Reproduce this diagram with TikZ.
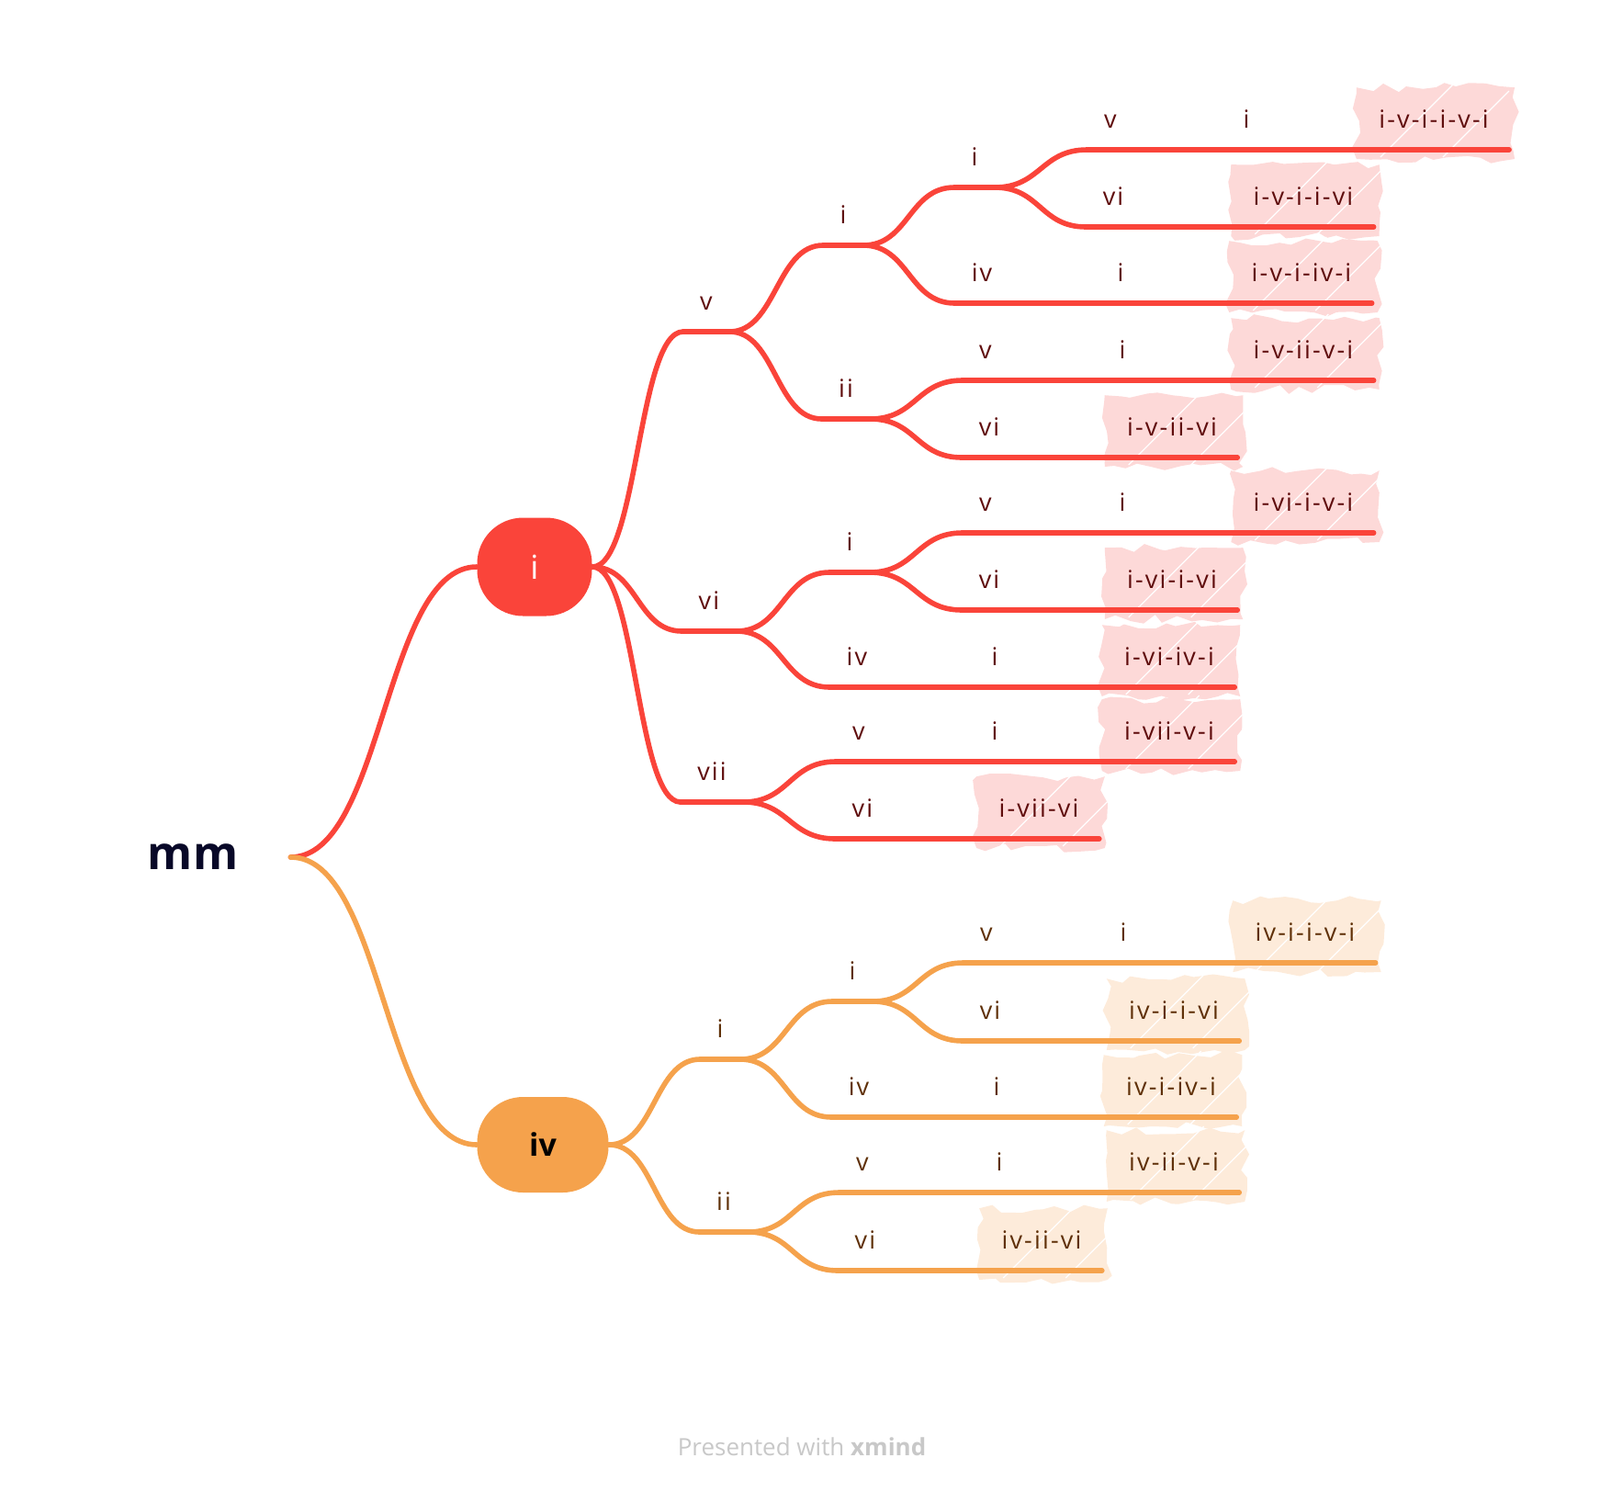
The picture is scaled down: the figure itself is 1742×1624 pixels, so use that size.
\documentclass[tikz,border=0pt]{standalone}
\usepackage{fontspec}
\setmainfont{Open Sans}
\newfontfamily\lblfont[LetterSpace=8]{Open Sans}
\usetikzlibrary{calc,backgrounds,decorations.pathmorphing}
\definecolor{rbranch}{RGB}{250,68,58}
\definecolor{obranch}{RGB}{245,162,76}
\definecolor{rtext}{RGB}{95,12,12}
\definecolor{otext}{RGB}{95,48,8}
\definecolor{rpatch}{RGB}{253,217,216}
\definecolor{opatch}{RGB}{253,235,218}
\definecolor{roottext}{RGB}{8,8,40}
\definecolor{footgray}{RGB}{200,200,200}
\begin{document}
\begin{tikzpicture}[x=0.5pt,y=-0.5pt,
  topic/.style={inner xsep=9pt,inner ysep=0pt,text height=10pt,text depth=11.5pt,anchor=south,
    font={\lblfont\fontsize{13.5pt}{16pt}\selectfont}},
  leaf/.style={topic,inner xsep=11pt},
  rtxt/.style={text=rtext},
  otxt/.style={text=otext},
  rline/.style={draw=rbranch,line width=2.8pt,line cap=round},
  oline/.style={draw=obranch,line width=2.8pt,line cap=round},
  link/.style={to path={let \p1=(\tikztostart),\p2=(\tikztotarget) in
    .. controls ({(\x1+\x2)/2},\y1) and ({(\x1+\x2)/2},\y2) .. (\tikztotarget)}},
  hatchfill/.style={fill=#1,decorate,decoration={random steps,segment length=7pt,amplitude=2.5pt}},
  streak/.style={draw=white,line width=0.6pt},
  blob/.style={fill=#1,rounded corners=25pt,inner sep=0pt}]
\useasboundingbox (0,0) rectangle (1742,1624);

\node[font=\bfseries\fontsize{25pt}{30pt}\selectfont,text=roottext,minimum width=106pt,inner sep=0pt] (mm) at (210,933) {mm};
\node[blob=rbranch,minimum width=62.5pt,minimum height=53.5pt,text=white,font=\fontsize{18pt}{20pt}\selectfont] (i) at (582,617) {i};
\node[blob=obranch,minimum width=71.5pt,minimum height=52pt,text=black,font=\bfseries\fontsize{17pt}{20pt}\selectfont] (iv) at (591,1246) {iv};

\node[topic,rtxt] (i_v) at (769,361) {v};
\node[topic,rtxt] (i_vi) at (772,687) {vi};
\node[topic,rtxt] (i_vii) at (775,873) {vii};
\node[topic,rtxt] (i_v_i) at (918,267) {i};
\node[topic,rtxt] (i_v_ii) at (921,456) {ii};
\node[topic,rtxt] (i_v_i_i) at (1061,204) {i};
\node[topic,rtxt] (i_v_i_iv) at (1069,330) {iv};
\node[topic,rtxt] (i_v_i_i_v) at (1209,163) {v};
\node[topic,rtxt] (i_v_i_i_vi) at (1212,247) {vi};
\node[topic,rtxt] (i_v_i_i_v_i) at (1357,163) {i};
\node[topic,rtxt] (i_v_i_iv_i) at (1220,330) {i};
\node[topic,rtxt] (i_v_ii_v) at (1073,414) {v};
\node[topic,rtxt] (i_v_ii_v_i) at (1222,414) {i};
\node[topic,rtxt] (i_v_ii_vi) at (1077,498) {vi};
\node[topic,rtxt] (i_vi_i) at (925,623) {i};
\node[topic,rtxt] (i_vi_iv) at (933,748) {iv};
\node[topic,rtxt] (i_vi_i_v) at (1073,580) {v};
\node[topic,rtxt] (i_vi_i_v_i) at (1222,580) {i};
\node[topic,rtxt] (i_vi_i_vi) at (1077,664) {vi};
\node[topic,rtxt] (i_vi_iv_i) at (1083,748) {i};
\node[topic,rtxt] (i_vii_v) at (935,829) {v};
\node[topic,rtxt] (i_vii_v_i) at (1083,829) {i};
\node[topic,rtxt] (i_vii_vi) at (939,913) {vi};

\node[leaf,rtxt] (L_i_v_i_i_v_i) at (1561,163) {i-v-i-i-v-i};
\node[leaf,rtxt] (L_i_v_i_i_vi) at (1419,247) {i-v-i-i-vi};
\node[leaf,rtxt] (L_i_v_i_iv_i) at (1417,330) {i-v-i-iv-i};
\node[leaf,rtxt] (L_i_v_ii_v_i) at (1419,414) {i-v-ii-v-i};
\node[leaf,rtxt] (L_i_v_ii_vi) at (1276,498) {i-v-ii-vi};
\node[leaf,rtxt] (L_i_vi_i_v_i) at (1419,580) {i-vi-i-v-i};
\node[leaf,rtxt] (L_i_vi_i_vi) at (1276,664) {i-vi-i-vi};
\node[leaf,rtxt] (L_i_vi_iv_i) at (1273,748) {i-vi-iv-i};
\node[leaf,rtxt] (L_i_vii_v_i) at (1273,829) {i-vii-v-i};
\node[leaf,rtxt] (L_i_vii_vi) at (1131,913) {i-vii-vi};

\node[topic,otxt] (iv_i) at (784,1153) {i};
\node[topic,otxt] (iv_ii) at (788,1341) {ii};
\node[topic,otxt] (iv_i_i) at (928,1090) {i};
\node[topic,otxt] (iv_i_iv) at (935,1216) {iv};
\node[topic,otxt] (iv_i_i_v) at (1074,1048) {v};
\node[topic,otxt] (iv_i_i_v_i) at (1223,1048) {i};
\node[topic,otxt] (iv_i_i_vi) at (1078,1133) {vi};
\node[topic,otxt] (iv_i_iv_i) at (1085,1216) {i};
\node[topic,otxt] (iv_ii_v) at (939,1298) {v};
\node[topic,otxt] (iv_ii_v_i) at (1088,1298) {i};
\node[topic,otxt] (iv_ii_vi) at (942,1383) {vi};

\node[leaf,otxt] (L_iv_i_i_v_i) at (1421,1048) {iv-i-i-v-i};
\node[leaf,otxt] (L_iv_i_i_vi) at (1278,1133) {iv-i-i-vi};
\node[leaf,otxt] (L_iv_i_iv_i) at (1275,1216) {iv-i-iv-i};
\node[leaf,otxt] (L_iv_ii_v_i) at (1278,1298) {iv-ii-v-i};
\node[leaf,otxt] (L_iv_ii_vi) at (1134,1383) {iv-ii-vi};

\begin{scope}[on background layer]
\foreach \n in {L_i_v_i_i_v_i,L_i_v_i_i_vi,L_i_v_i_iv_i,L_i_v_ii_v_i,L_i_v_ii_vi,L_i_vi_i_v_i,L_i_vi_i_vi,L_i_vi_iv_i,L_i_vii_v_i,L_i_vii_vi}
  \fill[hatchfill=rpatch] ([xshift=-1pt,yshift=-5pt]\n.south west) rectangle ([xshift=3pt,yshift=12pt]\n.north east);
\foreach \n in {L_iv_i_i_v_i,L_iv_i_i_vi,L_iv_i_iv_i,L_iv_ii_v_i,L_iv_ii_vi}
  \fill[hatchfill=opatch] ([xshift=-1pt,yshift=-5pt]\n.south west) rectangle ([xshift=3pt,yshift=12pt]\n.north east);
\foreach \n in {L_i_v_i_i_v_i,L_i_v_i_i_vi,L_i_v_i_iv_i,L_i_v_ii_v_i,L_i_v_ii_vi,L_i_vi_i_v_i,L_i_vi_i_vi,L_i_vi_iv_i,L_i_vii_v_i,L_i_vii_vi,
    L_iv_i_i_v_i,L_iv_i_i_vi,L_iv_i_iv_i,L_iv_ii_v_i,L_iv_ii_vi}{
  \draw[streak] ([xshift=12pt,yshift=-4pt]\n.south west) -- ++(40pt,40pt);
  \draw[streak] ([xshift=46pt,yshift=-4pt]\n.south west) -- ++(36pt,36pt);
}
\end{scope}

\draw[rline] (mm.east) to[link] (i.west);
\draw[oline] (mm.east) to[link] (iv.west);
\foreach \b in {i_v,i_vi,i_vii}
  \draw[rline] (i.east) to[link] (\b.south west);
\foreach \b in {iv_i,iv_ii}
  \draw[oline] (iv.east) to[link] (\b.south west);

\foreach \a/\b in {i_v/i_v_i,i_v/i_v_ii,i_v_i/i_v_i_i,i_v_i/i_v_i_iv,i_v_i_i/i_v_i_i_v,i_v_i_i/i_v_i_i_vi,
    i_v_i_i_v/i_v_i_i_v_i,i_v_i_i_v_i/L_i_v_i_i_v_i,i_v_i_i_vi/L_i_v_i_i_vi,i_v_i_iv/i_v_i_iv_i,i_v_i_iv_i/L_i_v_i_iv_i,
    i_v_ii/i_v_ii_v,i_v_ii/i_v_ii_vi,i_v_ii_v/i_v_ii_v_i,i_v_ii_v_i/L_i_v_ii_v_i,i_v_ii_vi/L_i_v_ii_vi,
    i_vi/i_vi_i,i_vi/i_vi_iv,i_vi_i/i_vi_i_v,i_vi_i/i_vi_i_vi,i_vi_i_v/i_vi_i_v_i,i_vi_i_v_i/L_i_vi_i_v_i,
    i_vi_i_vi/L_i_vi_i_vi,i_vi_iv/i_vi_iv_i,i_vi_iv_i/L_i_vi_iv_i,
    i_vii/i_vii_v,i_vii/i_vii_vi,i_vii_v/i_vii_v_i,i_vii_v_i/L_i_vii_v_i,i_vii_vi/L_i_vii_vi}
  \draw[rline] (\a.south east) to[link] (\b.south west);
\foreach \a/\b in {iv_i/iv_i_i,iv_i/iv_i_iv,iv_i_i/iv_i_i_v,iv_i_i/iv_i_i_vi,iv_i_i_v/iv_i_i_v_i,iv_i_i_v_i/L_iv_i_i_v_i,
    iv_i_i_vi/L_iv_i_i_vi,iv_i_iv/iv_i_iv_i,iv_i_iv_i/L_iv_i_iv_i,
    iv_ii/iv_ii_v,iv_ii/iv_ii_vi,iv_ii_v/iv_ii_v_i,iv_ii_v_i/L_iv_ii_v_i,iv_ii_vi/L_iv_ii_vi}
  \draw[oline] (\a.south east) to[link] (\b.south west);

\foreach \n in {i_v,i_vi,i_vii,i_v_i,i_v_ii,i_v_i_i,i_v_i_iv,i_v_i_i_v,i_v_i_i_vi,i_v_i_i_v_i,i_v_i_iv_i,
    i_v_ii_v,i_v_ii_v_i,i_v_ii_vi,i_vi_i,i_vi_iv,i_vi_i_v,i_vi_i_v_i,i_vi_i_vi,i_vi_iv_i,i_vii_v,i_vii_v_i,i_vii_vi,
    L_i_v_i_i_v_i,L_i_v_i_i_vi,L_i_v_i_iv_i,L_i_v_ii_v_i,L_i_v_ii_vi,L_i_vi_i_v_i,L_i_vi_i_vi,L_i_vi_iv_i,L_i_vii_v_i,L_i_vii_vi}
  \draw[rline] (\n.south west) -- (\n.south east);
\foreach \n in {iv_i,iv_ii,iv_i_i,iv_i_iv,iv_i_i_v,iv_i_i_v_i,iv_i_i_vi,iv_i_iv_i,iv_ii_v,iv_ii_v_i,iv_ii_vi,
    L_iv_i_i_v_i,L_iv_i_i_vi,L_iv_i_iv_i,L_iv_ii_v_i,L_iv_ii_vi}
  \draw[oline] (\n.south west) -- (\n.south east);

\node[font=\fontsize{13pt}{16pt}\selectfont,text=footgray] (credit) at (873,1575) {Presented with \textbf{xmind}};
\end{tikzpicture}
\end{document}
